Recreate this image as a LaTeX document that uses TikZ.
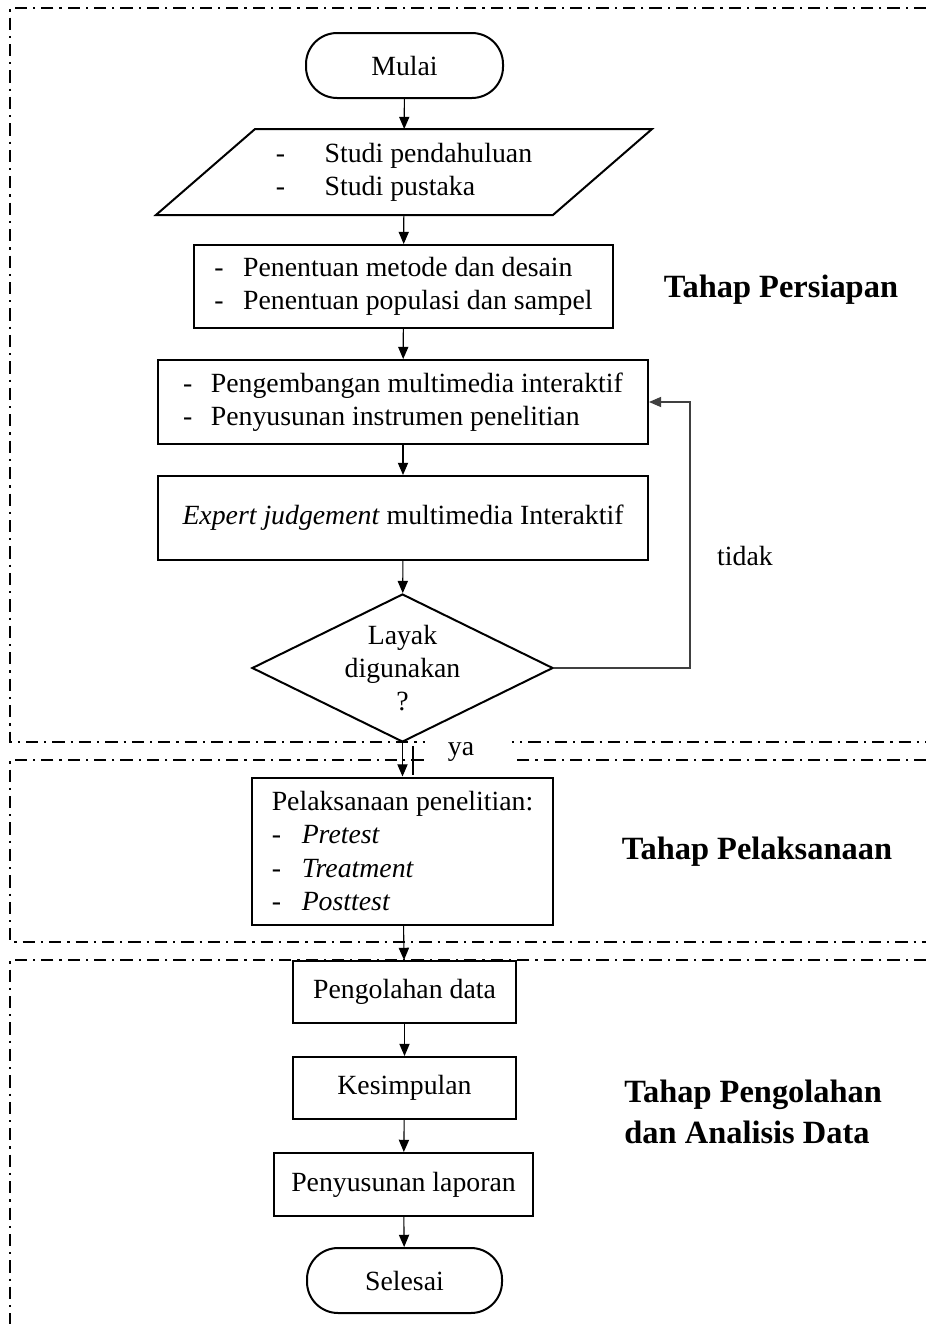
\documentclass[tikz,border=0pt]{standalone}
\usepackage{fontspec}
\setmainfont{Liberation Serif}
\usetikzlibrary{shapes.geometric, arrows.meta}

\tikzset{
  txt/.style={font=\fontsize{12.5pt}{15pt}\selectfont},
  head/.style={font=\fontsize{14.6pt}{18.5pt}\selectfont\bfseries, align=left, inner sep=0pt},
  wh/.style 2 args={minimum width=#1*0.45pt, minimum height=#2*0.45pt},
  proc/.style={txt, draw, line width=0.9pt, inner sep=0pt, align=center},
  term/.style={proc, rounded corners=14pt},
  arr/.style={line width=0.5pt, -{Triangle[length=5.5pt, width=4.6pt]}},
  zone/.style={line width=0.9pt, dash pattern=on 5.5pt off 2.7pt on 1pt off 2.7pt},
}
\newcommand{\dashitem}[2]{\makebox[#1][l]{-}#2}

\begin{document}
\begin{tikzpicture}[x=0.45pt, y=-0.45pt]
\useasboundingbox (0,0) rectangle (926,1324);

\draw[zone] (926,8) -- (10,8) -- (10,742) -- (926,742);
\draw[zone] (926,760) -- (10,760) -- (10,942) -- (926,942);
\draw[zone] (926,960) -- (10,960) -- (10,1324);
\fill[white] (425,733) rectangle (512,770);

\node[term, wh={197}{65}] (start) at (404.5,65.5) {Mulai};
\node[proc, draw=none, wh={395}{84}, align=left] (study) at (404,172)
      {\dashitem{22pt}{Studi pendahuluan}\\ \dashitem{22pt}{Studi pustaka}};
\draw[line width=0.9pt] ([xshift=-22.3pt]study.south west) -- ([xshift=22.3pt]study.north west)
      -- ([xshift=22.3pt]study.north east) -- ([xshift=-22.3pt]study.south east) -- cycle;
\node[proc, wh={419}{83}, align=left] (method) at (403.5,286.5)
      {\dashitem{13pt}{Penentuan metode dan desain}\\ \dashitem{13pt}{Penentuan populasi dan sampel}};
\node[proc, wh={490}{84}, align=left] (develop) at (403,402)
      {\dashitem{12.5pt}{Pengembangan multimedia interaktif}\\ \dashitem{12.5pt}{Penyusunan instrumen penelitian}};
\node[proc, wh={490}{84}] (expert) at (403,518) {\textit{Expert judgement} multimedia Interaktif};
\node[proc, shape=diamond, shape aspect=2, wh={301}{148}] (decide) at (402.5,668) {Layak\\digunakan\\?};
\node[proc, wh={301}{147}, align=left] (exec) at (402.5,851)
      {Pelaksanaan penelitian:\\ \dashitem{13.5pt}{\textit{Pretest}}\\
       \dashitem{13.5pt}{\textit{Treatment}}\\ \dashitem{13.5pt}{\textit{Posttest}}};
\node[proc, wh={223}{62}] (process) at (404.5,992) {Pengolahan data};
\node[proc, wh={223}{62}] (conclude) at (404.5,1088) {Kesimpulan};
\node[proc, wh={259}{63}] (report) at (403.5,1184.5) {Penyusunan laporan};
\node[term, wh={195}{65}] (finish) at (404.5,1280.5) {Selesai};

\coordinate (back) at (690,668);

\draw[arr] (start) -- (study);
\draw[arr] (study) -- (method);
\draw[arr] (method) -- (develop);
\draw[arr] (develop) -- (expert);
\draw[arr] (expert) -- (decide);
\draw[arr] (decide) -- (exec);
\draw[arr] (exec) -- (process);
\draw[arr] (process) -- (conclude);
\draw[arr] (conclude) -- (report);
\draw[arr] (report) -- (finish);
\draw[arr, black!75] (decide.east) -- (back) |- (develop.east);
\draw[line width=0.8pt] (413,746) -- (413,775);

\node[txt] (no) at (745,556) {tidak};
\node[txt] (yes) at (461,752) {ya};
\node[head] (prep) at (781,290) {Tahap Persiapan};
\node[head] (run) at (757,852) {Tahap Pelaksanaan};
\node[head, anchor=west] (analyse) at (624,1112) {Tahap Pengolahan\\dan Analisis Data};
\end{tikzpicture}
\end{document}
